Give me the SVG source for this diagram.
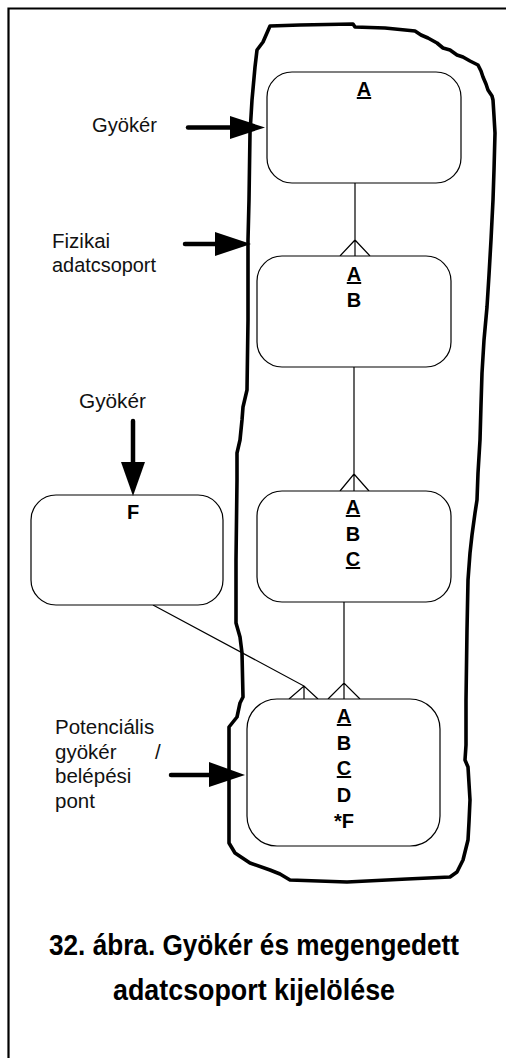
<svg xmlns="http://www.w3.org/2000/svg" width="506" height="1058" viewBox="0 0 506 1058">
  <style>
    .frame { fill: none; stroke: #000; stroke-width: 2.2; }
    .blob { fill: none; stroke: #000; stroke-width: 3.6; stroke-linejoin: round; }
    .box { fill: #fff; stroke: #000; stroke-width: 1.2; }
    .link { fill: none; stroke: #000; stroke-width: 1.2; }
    .shaft { stroke: #000; stroke-width: 4.5; stroke-linecap: round; }
    .head { fill: #000; }
    .lbl { font-family: "Liberation Sans", Arial, sans-serif; font-size: 20.5px; fill: #111; }
    .key { font-family: "Liberation Sans", Arial, sans-serif; font-size: 20px; font-weight: bold; fill: #000; text-anchor: middle; }
    .u { text-decoration: underline; }
    .cap { font-family: "Liberation Sans", Arial, sans-serif; font-size: 29px; font-weight: bold; fill: #000; text-anchor: middle; }
  </style>

  <!-- page frame (left and top edges) -->
  <path class="frame" d="M8.5,1058 L8.5,8.5 L506,8.5"/>

  <!-- hand-drawn outline of the physical data group -->
  <path class="blob" d="M270,26 L300,25 L353,24 L355,27 L385,28 L415,31 L421,35 L428,38 L437,43 L443,48 L450,50 L457,55 L463,57 L470,61 L478,65 L481,71 L483,77 L486,84 L488,90 L492,96 L493,100 L494,116 L495,133 L494,170 L493,200 L491,240 L489,275 L487,307 L484,340 L482,373 L481,405 L480,440 L478,473 L477,500 L475,513 L472,535 L470,553 L468,580 L467,630 L466,700 L466,745 L465,760 L468,767 L470,800 L469,822 L468,840 L463,860 L457,872 L450,877 L407,879 L347,882 L290,880 L280,874 L270,870 L250,863 L235,853 L229,843 L229,727 L233,722 L237,717 L240,703 L243,697 L242,653 L240,637 L236,623 L236,560 L237,480 L237,453 L240,440 L242,420 L243,407 L247,390 L248,320 L248,240 L249,200 L250,133 L252,100 L255,67 L257,50 L260,46 L263,42 Z"/>

  <!-- connectors between the data groups -->
  <g id="connectors">
    <!-- A to AB -->
    <path class="link" d="M355,183 L355,256 M340,256 L355,240 L370,256"/>
    <!-- AB to ABC -->
    <path class="link" d="M354,367 L354,491 M340,491 L354,474 L369,491"/>
    <!-- ABC to ABCD*F -->
    <path class="link" d="M344,602 L344,699 M328,699 L344,683 L360,699"/>
    <!-- F to ABCD*F -->
    <path class="link" d="M153,605 L304,686 L304,699 M289,699 L304,686 L318,699"/>
  </g>

  <g id="node-a">
    <rect class="box" x="267" y="72" width="194" height="111" rx="25"/>
    <text class="key u" x="364" y="96">A</text>
  </g>

  <g id="node-ab">
    <rect class="box" x="257" y="256" width="194" height="111" rx="25"/>
    <text class="key u" x="354" y="281">A</text>
    <text class="key" x="354" y="307">B</text>
  </g>

  <g id="node-abc">
    <rect class="box" x="257" y="491" width="194" height="111" rx="25"/>
    <text class="key u" x="353" y="514">A</text>
    <text class="key" x="353" y="541">B</text>
    <text class="key u" x="353" y="566">C</text>
  </g>

  <g id="node-abcdf">
    <rect class="box" x="247" y="699" width="193" height="147" rx="30"/>
    <text class="key u" x="344" y="723">A</text>
    <text class="key" x="344" y="750">B</text>
    <text class="key u" x="344" y="775">C</text>
    <text class="key" x="344" y="802">D</text>
    <text class="key" x="344" y="828">*F</text>
  </g>

  <g id="node-f">
    <rect class="box" x="31" y="495" width="192" height="110" rx="25"/>
    <text class="key" x="133" y="519">F</text>
  </g>

  <!-- labelled pointer arrows -->
  <g id="label-root">
    <text class="lbl" x="92" y="132" textLength="65" lengthAdjust="spacingAndGlyphs">Gyökér</text>
    <line class="shaft" x1="188" y1="127.5" x2="231" y2="127.5"/>
    <polygon class="head" points="230,116 265,127.5 230,139"/>
  </g>

  <g id="label-physical">
    <text class="lbl" x="52" y="248">Fizikai</text>
    <text class="lbl" x="52" y="272" textLength="104" lengthAdjust="spacingAndGlyphs">adatcsoport</text>
    <line class="shaft" x1="185" y1="244" x2="216" y2="244"/>
    <polygon class="head" points="215,232 251,244 215,256"/>
  </g>

  <g id="label-root-f">
    <text class="lbl" x="79" y="408" textLength="67" lengthAdjust="spacingAndGlyphs">Gyökér</text>
    <line class="shaft" x1="133" y1="421" x2="133" y2="463"/>
    <polygon class="head" points="121,462 133,496 145,462"/>
  </g>

  <g id="label-entry">
    <text class="lbl" x="55" y="734">Potenciális</text>
    <text class="lbl" x="55" y="759">gyökér<tspan x="155">/</tspan></text>
    <text class="lbl" x="55" y="783">belépési</text>
    <text class="lbl" x="55" y="808">pont</text>
    <line class="shaft" x1="171" y1="775" x2="210" y2="775"/>
    <polygon class="head" points="209,762 245,775 209,787"/>
  </g>

  <g id="caption">
    <text class="cap" x="254" y="955" textLength="410" lengthAdjust="spacingAndGlyphs">32. ábra. Gyökér és megengedett</text>
    <text class="cap" x="254" y="1000" textLength="282" lengthAdjust="spacingAndGlyphs">adatcsoport kijelölése</text>
  </g>
</svg>
